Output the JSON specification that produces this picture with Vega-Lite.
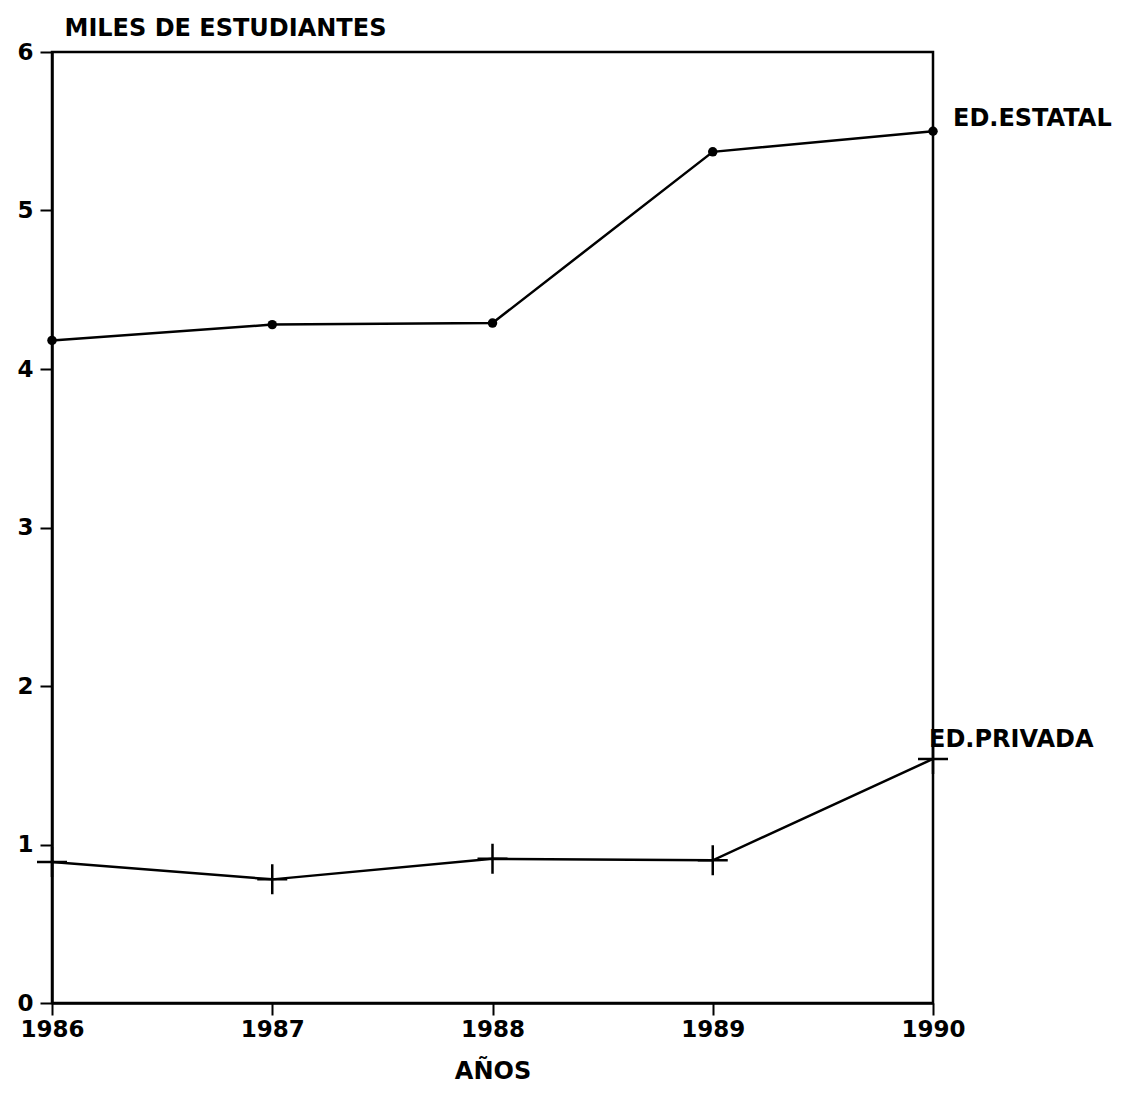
{
  "$schema": "https://vega.github.io/schema/vega-lite/v6.json",
  "width": 881,
  "height": 951,
  "autosize": {"type": "none"},
  "padding": {"left": 52, "top": 52, "right": 203, "bottom": 110},
  "background": "white",
  "config": {
    "view": {"stroke": "black", "strokeWidth": 2.5},
    "font": "DejaVu Sans",
    "axis": {"grid": false, "domainColor": "black", "domainWidth": 2.5, "tickColor": "black", "tickWidth": 2, "tickSize": 12, "labelColor": "black", "labelFont": "DejaVu Sans", "labelFontWeight": "bold", "labelFontSize": 23, "titleColor": "black", "titleFont": "DejaVu Sans", "titleFontWeight": "bold", "titleFontSize": 24}
  },
  "data": {
    "values": [
      {"year": 1986, "value": 4.18, "series": "ED.ESTATAL"},
      {"year": 1987, "value": 4.28, "series": "ED.ESTATAL"},
      {"year": 1988, "value": 4.29, "series": "ED.ESTATAL"},
      {"year": 1989, "value": 5.37, "series": "ED.ESTATAL"},
      {"year": 1990, "value": 5.50, "series": "ED.ESTATAL"},
      {"year": 1986, "value": 0.89, "series": "ED.PRIVADA"},
      {"year": 1987, "value": 0.78, "series": "ED.PRIVADA"},
      {"year": 1988, "value": 0.91, "series": "ED.PRIVADA"},
      {"year": 1989, "value": 0.90, "series": "ED.PRIVADA"},
      {"year": 1990, "value": 1.54, "series": "ED.PRIVADA"}
    ]
  },
  "encoding": {
    "x": {"field": "year", "type": "quantitative", "scale": {"domain": [1986, 1990], "nice": false, "zero": false},
      "axis": {"values": [1986, 1987, 1988, 1989, 1990], "format": "d", "title": "AÑOS", "labelPadding": 3, "titlePadding": 18, "labelFlush": false}},
    "y": {"field": "value", "type": "quantitative", "scale": {"domain": [0, 6], "nice": false},
      "axis": {"values": [0, 1, 2, 3, 4, 5, 6], "title": "MILES DE ESTUDIANTES", "titleAngle": 0, "titleAlign": "left", "titleBaseline": "alphabetic", "titleX": 12, "titleY": -17, "labelPadding": 7}}
  },
  "layer": [
    {"mark": {"type": "line", "color": "black", "strokeWidth": 2.5}, "encoding": {"detail": {"field": "series"}}},
    {"transform": [{"filter": "datum.series == 'ED.ESTATAL'"}], "mark": {"type": "point", "shape": "circle", "filled": true, "color": "black", "size": 90, "opacity": 1}},
    {"transform": [{"filter": "datum.series == 'ED.PRIVADA'"}], "mark": {"type": "point", "shape": "M0,-1V1M-1,0H1", "filled": false, "color": "black", "strokeWidth": 2.5, "size": 900, "opacity": 1}},
    {"transform": [{"filter": "datum.series == 'ED.ESTATAL' && datum.year == 1990"}], "mark": {"type": "text", "align": "left", "baseline": "alphabetic", "dx": 20, "dy": -5, "font": "DejaVu Sans", "fontWeight": "bold", "fontSize": 24, "color": "black"}, "encoding": {"text": {"field": "series"}}},
    {"transform": [{"filter": "datum.series == 'ED.PRIVADA' && datum.year == 1990"}], "mark": {"type": "text", "align": "left", "baseline": "alphabetic", "dx": -4, "dy": -12, "font": "DejaVu Sans", "fontWeight": "bold", "fontSize": 24, "color": "black"}, "encoding": {"text": {"field": "series"}}}
  ]
}
